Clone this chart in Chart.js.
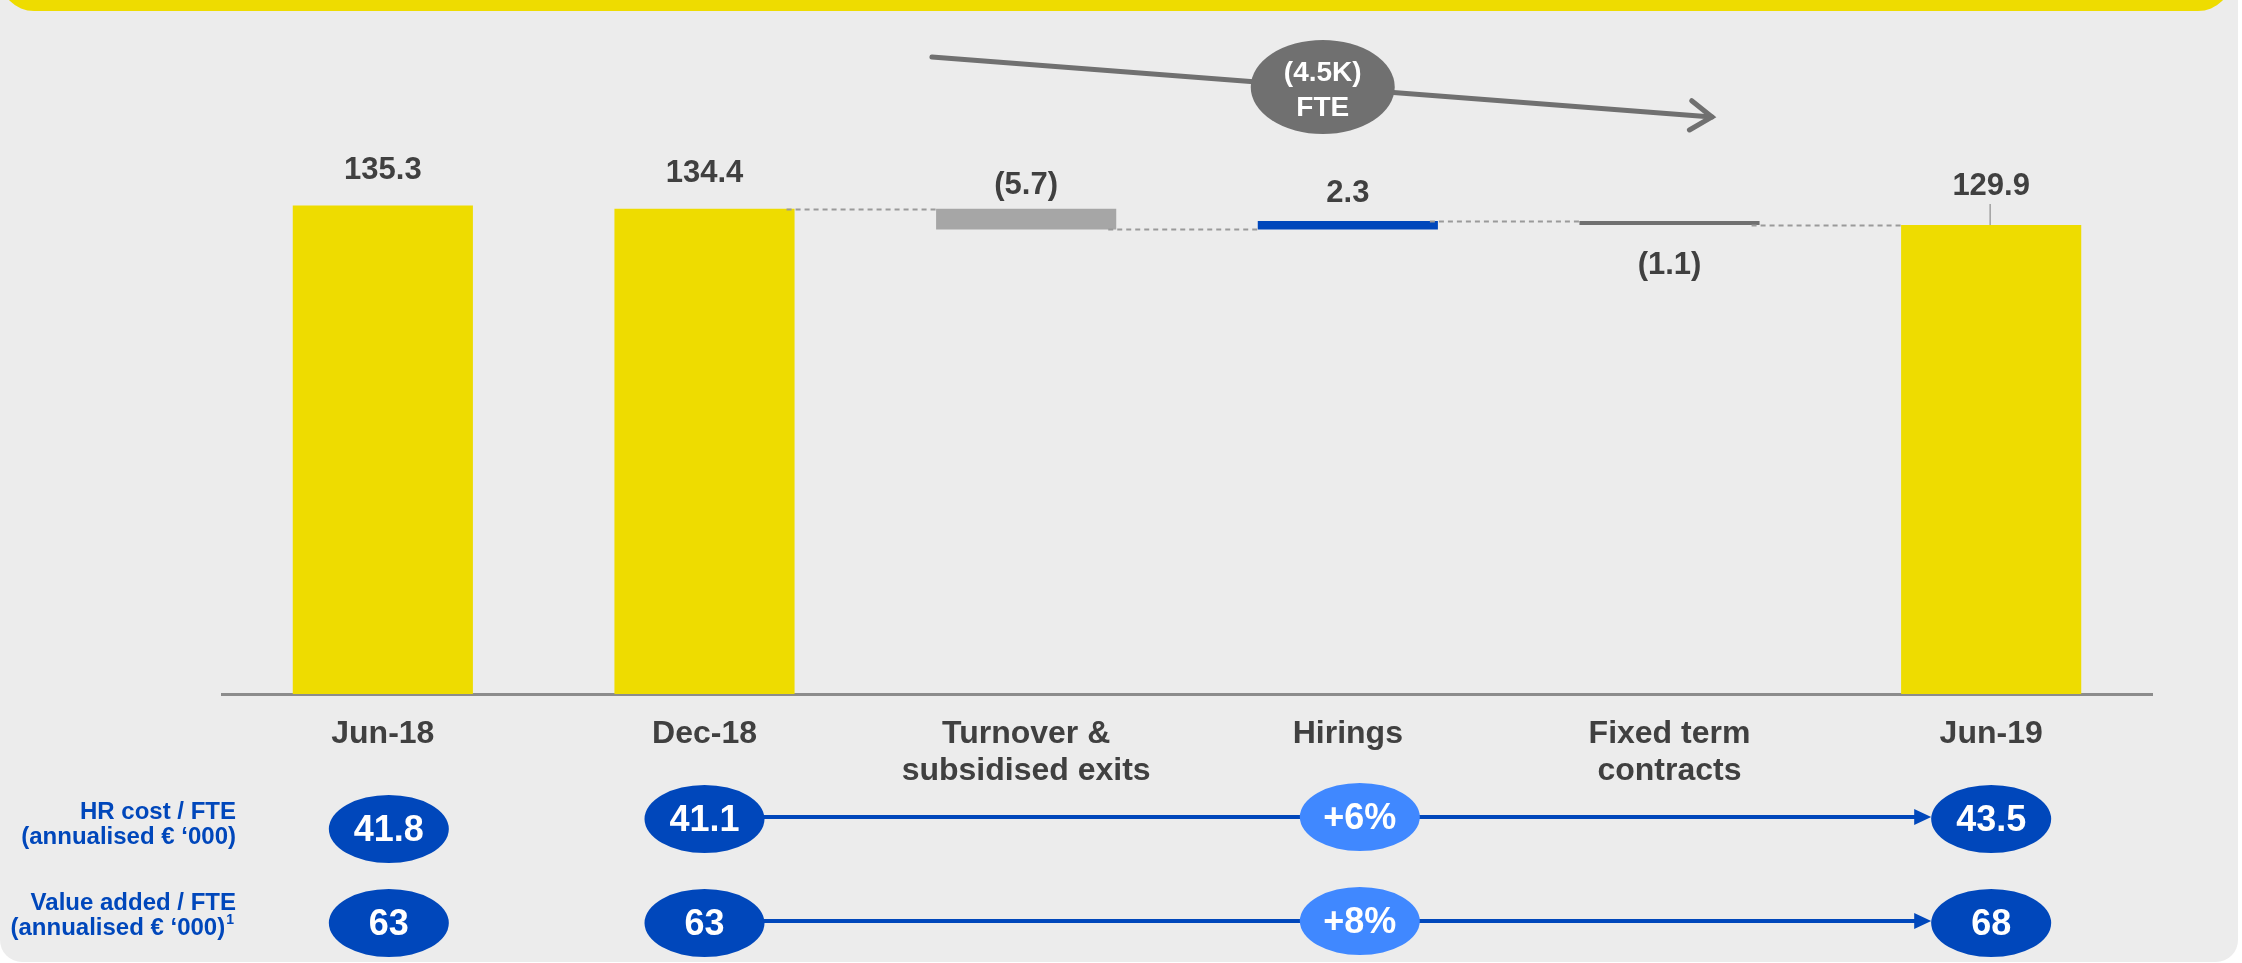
<!DOCTYPE html>
<html>
<head>
<meta charset="utf-8">
<title>FTE bridge Jun-18 to Jun-19</title>
<script src="https://cdn.jsdelivr.net/npm/chart.js@4.4.1/dist/chart.umd.min.js"></script>
<style>
  html, body { margin: 0; padding: 0; background: #fff; }
  canvas { display: block; }
</style>
</head>
<body>
<canvas id="chart" width="2242" height="963"></canvas>
<script>
// FTE bridge, thousands
const categories = [['Jun-18'], ['Dec-18'], ['Turnover &', 'subsidised exits'], ['Hirings'], ['Fixed term', 'contracts'], ['Jun-19']];
const steps = [135.3, 134.4, -5.7, 2.3, -1.1, 129.9];
const isTotal = [true, true, false, false, false, true];
const overallChange = ['(4.5K)', 'FTE'];

// KPI rows under the axis
const kpiPeriods = ['Jun-18', 'Dec-18', 'Jun-19'];
const kpiChangeAt = 'Hirings';
const hrCost = [41.8, 41.1, 43.5];
const hrCostChange = '+6%';
const valueAdded = [63, 63, 68];
const valueAddedChange = '+8%';

const FONT = '"Liberation Sans", Arial, sans-serif';
const YELLOW = '#eedc00';
const BLUE = '#0047bb';
const LIGHT_BLUE = '#4088ff';
const TEXT = '#404040';

// floating ranges for the waterfall
let running = 0;
const ranges = steps.map((v, i) => {
  if (isTotal[i]) { running = v; return [0, v]; }
  const start = running;
  running = +(running + v).toFixed(1);
  return [start, running];
});

const barColors = ['#eedc00', '#eedc00', '#a6a6a6', '#0047bb', '#707070', '#eedc00'];
// label distance from the bar's top (negative) or bottom (positive)
const labelOffsets = [-35, -35, -23, -28, 40, -39];

function fmt(v, total) {
  if (total || v >= 0) return v.toFixed(1);
  return '(' + Math.abs(v).toFixed(1) + ')';
}

function catIndex(name) {
  return categories.findIndex(c => c[0] === name);
}

function bubble(ctx, x, y, text, fill) {
  ctx.beginPath();
  ctx.ellipse(x, y, 60, 34, 0, 0, Math.PI * 2);
  ctx.fillStyle = fill;
  ctx.fill();
  ctx.fillStyle = '#fff';
  ctx.font = 'bold 36px ' + FONT;
  ctx.textAlign = 'center';
  ctx.textBaseline = 'middle';
  ctx.fillText(text, x, y + 2);
}

function kpiRow(ctx, xs, y, firstY, values, change, caption, captionY, sup) {
  const [x0, x1, x2, xc] = xs;
  // arrow from second period to last
  ctx.strokeStyle = BLUE;
  ctx.fillStyle = BLUE;
  ctx.lineWidth = 4;
  ctx.beginPath();
  ctx.moveTo(x1 + 58, y - 2);
  ctx.lineTo(x2 - 74, y - 2);
  ctx.stroke();
  ctx.beginPath();
  ctx.moveTo(x2 - 60, y - 2);
  ctx.lineTo(x2 - 77, y - 10);
  ctx.lineTo(x2 - 77, y + 6);
  ctx.closePath();
  ctx.fill();

  bubble(ctx, x0, firstY, String(values[0]), BLUE);
  bubble(ctx, x1, y, String(values[1]), BLUE);
  bubble(ctx, x2, y, String(values[2]), BLUE);
  bubble(ctx, xc, y - 2, change, LIGHT_BLUE);

  // row caption, right aligned
  ctx.fillStyle = BLUE;
  ctx.font = 'bold 24px ' + FONT;
  ctx.textAlign = 'right';
  ctx.textBaseline = 'alphabetic';
  const right = 236;
  ctx.fillText(caption[0], right, captionY);
  if (sup) {
    ctx.font = 'bold 14px ' + FONT;
    const w = ctx.measureText(sup).width;
    ctx.fillText(sup, right - 2, captionY + 14);
    ctx.font = 'bold 24px ' + FONT;
    ctx.fillText(caption[1], right - w - 3, captionY + 25);
  } else {
    ctx.fillText(caption[1], right, captionY + 25);
  }
}

const decorations = {
  id: 'decorations',
  beforeDraw(chart) {
    const ctx = chart.ctx;
    ctx.save();
    ctx.fillStyle = '#ffffff';
    ctx.fillRect(0, 0, chart.width, chart.height);
    ctx.fillStyle = '#ececec';
    ctx.beginPath();
    ctx.roundRect(0, 0, 2238, 962, [0, 0, 22, 22]);
    ctx.fill();
    // yellow band along the top
    ctx.fillStyle = YELLOW;
    ctx.beginPath();
    ctx.roundRect(0, -30, 2232, 41, [0, 0, 34, 34]);
    ctx.fill();
    ctx.restore();
  },
  afterDatasetsDraw(chart) {
    const ctx = chart.ctx;
    const bars = chart.getDatasetMeta(0).data;
    const y = chart.scales.y;
    ctx.save();
    // dashed connectors between consecutive steps
    ctx.strokeStyle = '#9a9a9a';
    ctx.lineWidth = 2;
    ctx.setLineDash([5, 4]);
    for (let i = 1; i < bars.length - 1; i++) {
      const level = ranges[i][1];
      const py = Math.round(y.getPixelForValue(level)) + 0.5;
      ctx.beginPath();
      ctx.moveTo(bars[i].x + bars[i].width / 2 - 8, py);
      ctx.lineTo(bars[i + 1].x - bars[i + 1].width / 2, py);
      ctx.stroke();
    }
    ctx.setLineDash([]);

    // value labels
    ctx.fillStyle = TEXT;
    ctx.font = 'bold 31px ' + FONT;
    ctx.textAlign = 'center';
    ctx.textBaseline = 'middle';
    bars.forEach((b, i) => {
      const top = Math.min(b.y, b.base);
      const bottom = Math.max(b.y, b.base);
      const off = labelOffsets[i];
      const ly = off < 0 ? top + off : bottom + off;
      ctx.fillText(fmt(steps[i], isTotal[i]), b.x, ly);
      if (i === bars.length - 1) {
        ctx.strokeStyle = '#a0a0a0';
        ctx.lineWidth = 1.5;
        ctx.beginPath();
        ctx.moveTo(b.x - 1, ly + 18);
        ctx.lineTo(b.x - 1, top);
        ctx.stroke();
      }
    });
    ctx.restore();
  },
  afterDraw(chart) {
    const ctx = chart.ctx;
    const x = chart.scales.x;
    ctx.save();

    // overall trend arrow with FTE change
    const sx = x.getPixelForValue(1.707), sy = 57;
    const ex = x.getPixelForValue(4.132), ey = 117;
    ctx.strokeStyle = '#707070';
    ctx.lineWidth = 5;
    ctx.lineCap = 'round';
    ctx.beginPath();
    ctx.moveTo(sx, sy);
    ctx.lineTo(ex, ey);
    ctx.stroke();
    const ang = Math.atan2(ey - sy, ex - sx);
    ctx.beginPath();
    ctx.moveTo(ex - 26 * Math.cos(ang - 0.6), ey - 26 * Math.sin(ang - 0.6));
    ctx.lineTo(ex, ey);
    ctx.lineTo(ex - 26 * Math.cos(ang + 0.6), ey - 26 * Math.sin(ang + 0.6));
    ctx.stroke();
    const cx = x.getPixelForValue(2.922);
    ctx.fillStyle = '#707070';
    ctx.beginPath();
    ctx.ellipse(cx, 87, 72, 47, 0, 0, Math.PI * 2);
    ctx.fill();
    ctx.fillStyle = '#fff';
    ctx.font = 'bold 28px ' + FONT;
    ctx.textAlign = 'center';
    ctx.textBaseline = 'middle';
    ctx.fillText(overallChange[0], cx, 73);
    ctx.fillText(overallChange[1], cx, 108);

    // KPI rows
    const xs = kpiPeriods.map(p => x.getPixelForValue(catIndex(p)));
    xs.push(x.getPixelForValue(catIndex(kpiChangeAt)));
    xs[0] += 6;
    xs[3] += 12;
    kpiRow(ctx, xs, 819, 829, hrCost, hrCostChange,
      ['HR cost / FTE', '(annualised € \u2018000)'], 819, null);
    kpiRow(ctx, xs, 923, 923, valueAdded, valueAddedChange,
      ['Value added / FTE', '(annualised € \u2018000)'], 910, '1');
    ctx.restore();
  }
};

new Chart(document.getElementById('chart'), {
  type: 'bar',
  data: {
    labels: categories,
    datasets: [{
      data: ranges,
      backgroundColor: barColors,
      borderWidth: 0,
      barPercentage: 0.56,
      categoryPercentage: 1
    }]
  },
  options: {
    responsive: false,
    animation: false,
    layout: { padding: { left: 222, right: 90, top: 152.5, bottom: 0 } },
    plugins: { legend: { display: false }, tooltip: { enabled: false } },
    scales: {
      x: {
        grid: { display: false, drawTicks: false },
        border: { display: true, color: '#8c8c8c', width: 3 },
        ticks: {
          color: TEXT,
          font: { family: FONT, size: 32, weight: 'bold', lineHeight: 1.15 },
          padding: 22,
          autoSkip: false,
          maxRotation: 0
        },
        afterFit(scale) { scale.height = 269; }
      },
      y: {
        display: false,
        min: 0,
        max: 150
      }
    }
  },
  plugins: [decorations]
});
</script>
</body>
</html>
